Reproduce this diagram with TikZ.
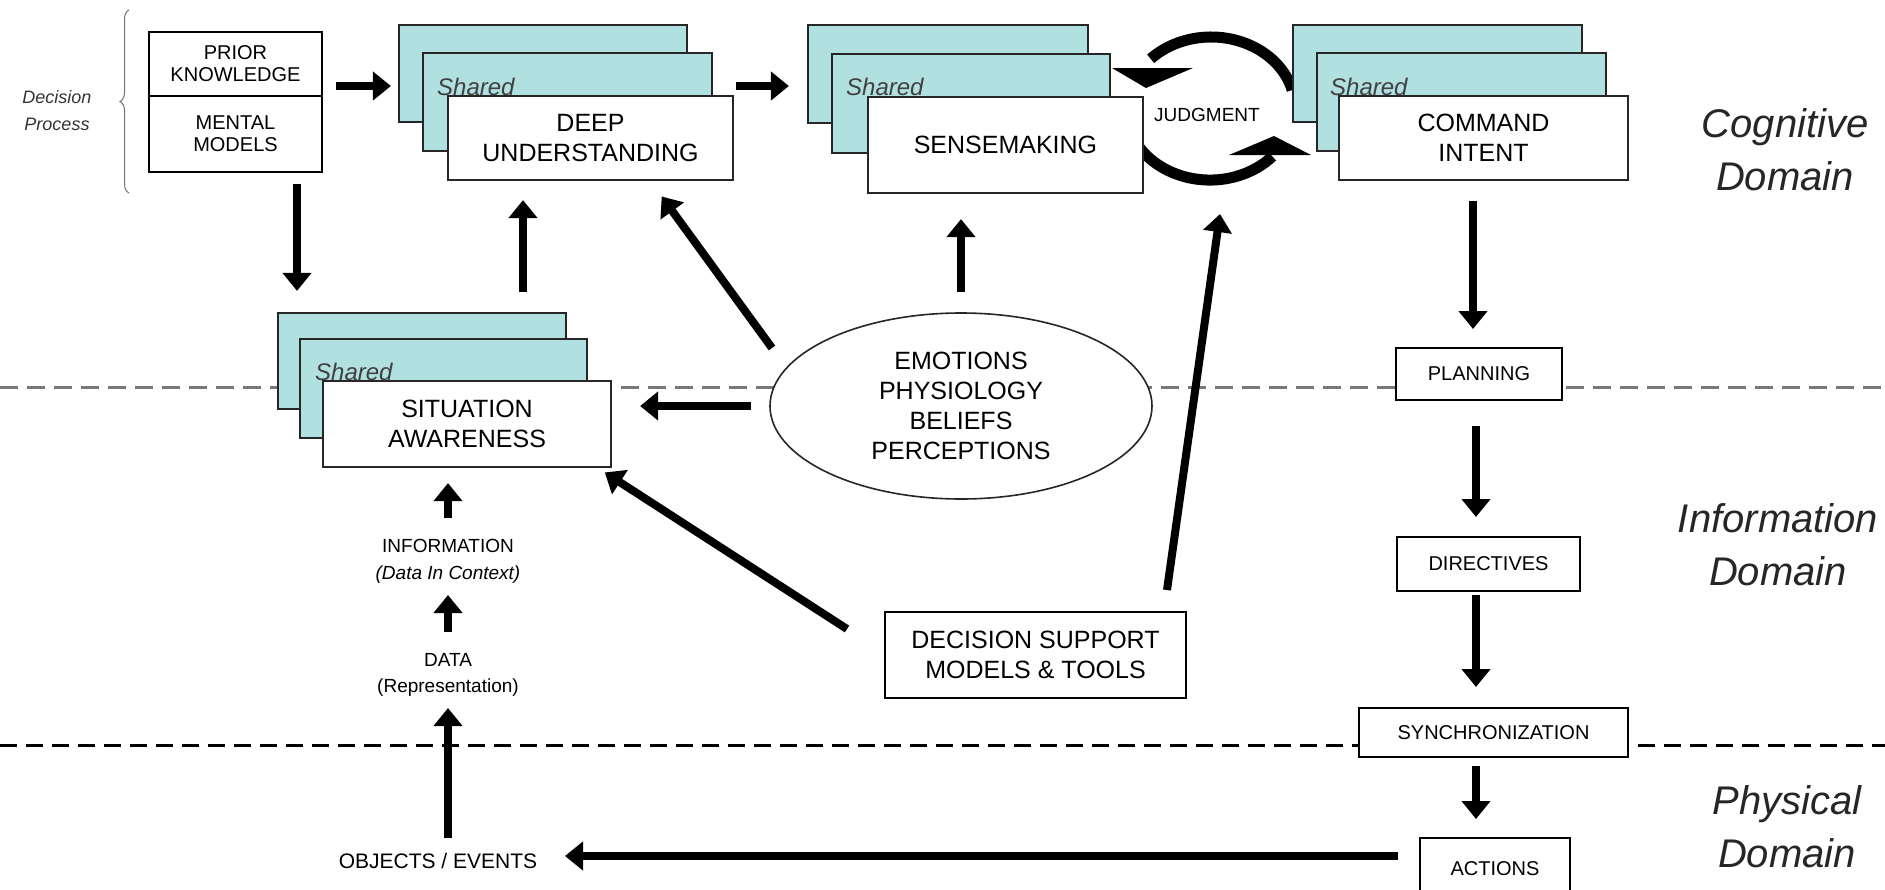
\documentclass[tikz,border=0pt]{standalone}
\usepackage{fontspec}
\setmainfont{Liberation Sans}
\usetikzlibrary{arrows.meta,decorations.pathreplacing,shapes.geometric}
\definecolor{sharedfill}{RGB}{176,224,224}
\definecolor{dashgray}{RGB}{120,120,120}
\newcommand\fsz[2]{\fontsize{#1}{#2}\selectfont}
\begin{document}
\begin{tikzpicture}[x=1pt,y=-1pt,
  box/.style={draw=black, line width=2pt, fill=white, inner sep=0pt, align=center},
  layer/.style={draw=black!85, line width=2.2pt, fill=sharedfill, inner sep=0pt},
  front/.style={draw=black!85, line width=2.2pt, fill=white, inner sep=0pt, align=center, font=\fsz{25}{30}},
  small/.style={box, font=\fsz{20}{22}},
  lbl/.style={inner sep=0pt, align=center},
  bigarrow/.style={line width=8pt, -{Triangle[length=18pt, width=28pt]}},
  domlabel/.style={lbl, font=\fsz{40}{53}\itshape, text=black!85},
  shared/.style={inner sep=0pt, anchor=base west, font=\fsz{24}{24}\itshape, text=black!75},
  judgarc/.style={line width=11pt},
]
\useasboundingbox (0,0) rectangle (1885,889);
\fill[white] (0,0) rectangle (1885,889);

% domain separators
\draw[dashgray, line width=3pt, dash pattern=on 18pt off 9pt] (0,387) -- (1885,387);
\draw[black, line width=3pt, dash pattern=on 17pt off 9pt] (0,745) -- (1885,745);

% judgment cycle
\draw[judgarc] (1292.2,90) arc[start angle=-15, end angle=-136, x radius=84, y radius=71.5];
\fill (1112,68) -- (1193,68) -- (1146,88) -- cycle;
\draw[judgarc] (1131,133) arc[start angle=160, end angle=42, x radius=84, y radius=71.5];
\fill (1229,155) -- (1311,155) -- (1274,136) -- cycle;

% decision process
\node[lbl, font=\fsz{18}{27}\itshape, text=black!80] (dp) at (57,111) {Decision\\Process};
\draw[decorate, decoration={brace, amplitude=9pt}, line width=1pt, black!55] (129,193) -- (129,10);
\node[small, minimum width=173, minimum height=64] (prior) at (235.5,64) {PRIOR\\KNOWLEDGE};
\node[small, minimum width=173, minimum height=76] (mental) at (235.5,134) {MENTAL\\MODELS};

% deep understanding stack
\node[layer, minimum width=288, minimum height=97] (deepb1) at (543,73.5) {};
\node[layer, minimum width=289, minimum height=98] (deepb2) at (567.5,102) {};
\node[shared] (deepsh) at (437,95) {Shared};
\node[front, minimum width=285, minimum height=84] (deep) at (590.5,138) {DEEP\\UNDERSTANDING};

% sensemaking stack
\node[layer, minimum width=280, minimum height=98] (senseb1) at (948,74) {};
\node[layer, minimum width=278, minimum height=99] (senseb2) at (971,103.5) {};
\node[shared] (sensesh) at (846,95) {Shared};
\node[front, minimum width=275, minimum height=96] (sense) at (1005.5,145) {SENSEMAKING};

% command intent stack
\node[layer, minimum width=289, minimum height=97] (cmdb1) at (1437.5,73.5) {};
\node[layer, minimum width=289, minimum height=98] (cmdb2) at (1461.5,102) {};
\node[shared] (cmdsh) at (1330,95) {Shared};
\node[front, minimum width=289, minimum height=84] (cmd) at (1483.5,138) {COMMAND\\INTENT};

\node[lbl, font=\fsz{19}{20}] (judg) at (1207,115) {JUDGMENT};

% situation awareness stack
\node[layer, minimum width=288, minimum height=96] (sab1) at (422,361) {};
\node[layer, minimum width=287, minimum height=99] (sab2) at (443.5,388.5) {};
\node[shared] (sash) at (315,380) {Shared};
\node[front, minimum width=288, minimum height=86] (sa) at (467,424) {SITUATION\\AWARENESS};

% ellipse and decision support
\node[ellipse, draw=black!85, line width=1.6pt, fill=white, minimum width=382, minimum height=186,
      inner sep=0pt, align=center, font=\fsz{25}{30}] (emo) at (961,406)
      {EMOTIONS\\PHYSIOLOGY\\BELIEFS\\PERCEPTIONS};
\node[box, minimum width=301, minimum height=86, font=\fsz{25}{30}] (dss) at (1035.5,655)
      {DECISION SUPPORT\\MODELS \& TOOLS};

% right column
\node[small, minimum width=166, minimum height=52] (plan) at (1479,374) {PLANNING};
\node[small, minimum width=183, minimum height=54] (dir) at (1488.5,564) {DIRECTIVES};
\node[small, minimum width=269, minimum height=49] (sync) at (1493.5,732.5) {SYNCHRONIZATION};
\node[small, minimum width=150, minimum height=62] (act) at (1495,869) {ACTIONS};

% left column texts
\node[lbl, font=\fsz{19}{27}] (info) at (448,561.5) {INFORMATION\\\textit{(Data In Context)}};
\node[lbl, font=\fsz{19}{26}] (data) at (448,675) {DATA\\(Representation)};
\node[lbl, font=\fsz{21}{21}] (obj) at (438,861) {OBJECTS / EVENTS};

% domain labels
\node[domlabel] (cogd) at (1785,150) {Cognitive\\Domain};
\node[domlabel] (infd) at (1778,545) {Information\\Domain};
\node[domlabel] (phyd) at (1787,827) {Physical\\Domain};

% arrows
\draw[bigarrow, shorten >=7pt] ([shift={(13,22)}]prior.east) coordinate (a1) -- (a1 -| deepb1.west);
\draw[bigarrow, shorten >=18pt] ([shift={(23,-16)}]deepb2.east) coordinate (a2) -- (a2 -| senseb1.west);
\draw[bigarrow, shorten >=21pt] ([shift={(61.5,11)}]mental.south) coordinate (a3) -- (a3 |- sab1.north);
\draw[bigarrow, shorten >=19pt] ([shift={(101,-20)}]sab1.north) coordinate (a4) -- (a4 |- deep.south);
\draw[bigarrow, shorten >=19pt] ([shift={(-189,-58)}]emo.center) -- ([shift={(60,0)}]deep.south);
\draw[bigarrow, shorten >=25pt] ([yshift=20pt]emo.north) coordinate (a6) -- (a6 |- sense.south);
\draw[bigarrow, shorten >=28pt] ([xshift=-18pt]emo.west) coordinate (a7) -- (a7 -| sa.east);
\draw[bigarrow, shorten >=8pt] ([shift={(-37,-26)}]dss.west) -- ([xshift=-14pt]sa.south east);
\coordinate (jtip) at ([shift={(13,99)}]judg.center);
\draw[bigarrow] ([shift={(-20,-21)}]dss.north east) -- (jtip);
\draw[bigarrow, shorten >=18pt] ([shift={(-10.5,20)}]cmd.south) coordinate (a10) -- (a10 |- plan.north);
\draw[bigarrow, shorten >=19pt] ([shift={(-3,25)}]plan.south) coordinate (a11) -- (a11 |- dir.north);
\draw[bigarrow, shorten >=20pt] (a11 |- dir.south) ++(0,3) coordinate (a12) -- (a12 |- sync.north);
\draw[bigarrow, shorten >=18pt] (a11 |- sync.south) ++(0,8) coordinate (a13) -- (a13 |- act.north);
\draw[bigarrow] ([shift={(-97,-13)}]act.center) -- ([shift={(127,-5)}]obj.center);
\draw[bigarrow] ([shift={(10,-23)}]obj.center) -- ([shift={(0,33)}]data.center);
\draw[bigarrow] ([shift={(0,-43)}]data.center) -- ([shift={(0,33.5)}]info.center);
\draw[bigarrow, shorten >=15pt] ([shift={(0,-43.5)}]info.center) coordinate (a17) -- (a17 |- sa.south);
\end{tikzpicture}
\end{document}
